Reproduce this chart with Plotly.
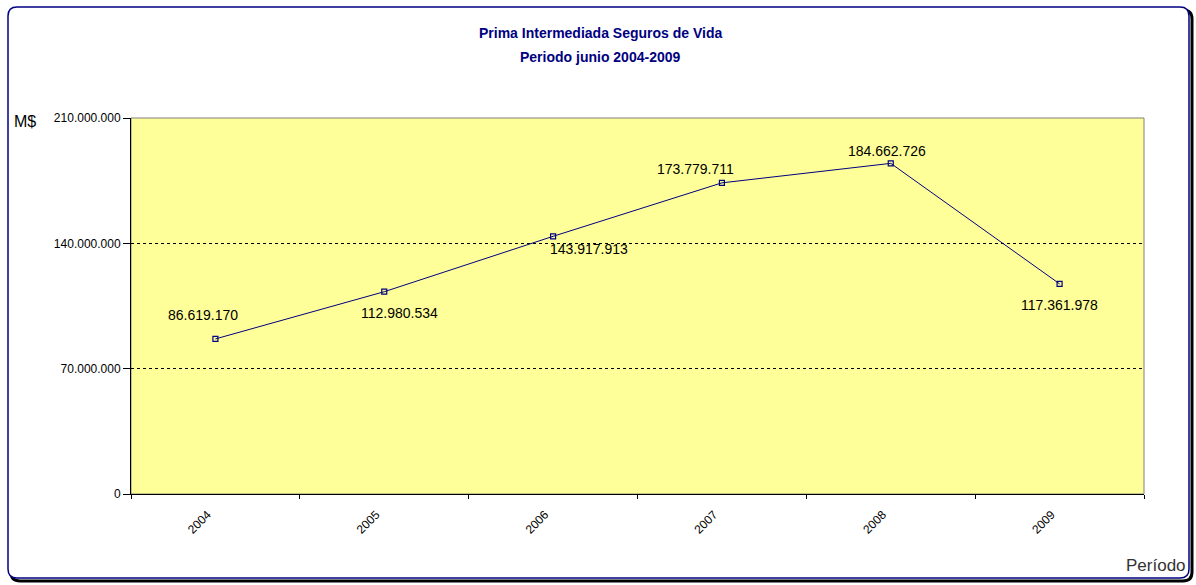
import plotly.graph_objects as go

years = ["2004", "2005", "2006", "2007", "2008", "2009"]
values = [86619170, 112980534, 143917913, 173779711, 184662726, 117361978]
labels = ["86.619.170", "112.980.534", "143.917.913", "173.779.711", "184.662.726", "117.361.978"]
label_shift_x = [-12, 15, 36, -26, -4, 0]
label_shift_y = [24, -21, -13, 14, 12, -21]
ytick_vals = [0, 70000000, 140000000, 210000000]
ytick_text = ["0", "70.000.000", "140.000.000", "210.000.000"]

W, H = 1196, 585
ML, MR, MT, MB = 131, 52, 118, 91
PW, PH = W - ML - MR, H - MT - MB

def px(x):
    return (x - ML) / PW

def py(y):
    return (H - MB - y) / PH

fig = go.Figure()
fig.add_trace(go.Scatter(
    x=years, y=values, mode="lines+markers",
    line=dict(color="#000080", width=1),
    marker=dict(symbol="square-open", size=5, color="#000080", line=dict(width=1.2)),
    hoverinfo="skip", showlegend=False,
))

annotations = []
for i, (v, t, dx, dy) in enumerate(zip(values, labels, label_shift_x, label_shift_y)):
    annotations.append(dict(x=i, y=v, xref="x", yref="y", text=t, showarrow=False,
                            xshift=dx, yshift=dy,
                            font=dict(family="Liberation Sans, Arial", size=14, color="#000000")))

annotations += [
    dict(x=px(600), y=py(33), xref="paper", yref="paper", text="<b>Prima Intermediada Seguros de Vida</b>",
         showarrow=False, xanchor="center", yanchor="middle",
         font=dict(family="Liberation Sans, Arial", size=14, color="#000080")),
    dict(x=px(600), y=py(57), xref="paper", yref="paper", text="<b>Periodo junio 2004-2009</b>",
         showarrow=False, xanchor="center", yanchor="middle",
         font=dict(family="Liberation Sans, Arial", size=14, color="#000080")),
    dict(x=px(12), y=py(121), xref="paper", yref="paper", text="M$", showarrow=False,
         xanchor="left", yanchor="middle",
         font=dict(family="Liberation Sans, Arial", size=16, color="#000000")),
    dict(x=px(1124), y=py(565), xref="paper", yref="paper", text="Período", showarrow=False,
         xanchor="left", yanchor="middle",
         font=dict(family="Liberation Sans, Arial", size=17, color="#333333")),
]

def rounded_path(x0, y0, x1, y1, r):
    X = px
    Y = py
    return (f"M {X(x0+r)},{Y(y0)} L {X(x1-r)},{Y(y0)} Q {X(x1)},{Y(y0)} {X(x1)},{Y(y0+r)} "
            f"L {X(x1)},{Y(y1-r)} Q {X(x1)},{Y(y1)} {X(x1-r)},{Y(y1)} "
            f"L {X(x0+r)},{Y(y1)} Q {X(x0)},{Y(y1)} {X(x0)},{Y(y1-r)} "
            f"L {X(x0)},{Y(y0+r)} Q {X(x0)},{Y(y0)} {X(x0+r)},{Y(y0)} Z")

shapes = [
    dict(type="path", xref="paper", yref="paper", path=rounded_path(11, 10, 1192, 581, 9),
         line=dict(color="#000000", width=3), fillcolor="rgba(0,0,0,0)", layer="below"),
    dict(type="path", xref="paper", yref="paper", path=rounded_path(8, 7, 1189, 578, 9),
         line=dict(color="#000080", width=1.5), fillcolor="#FFFFFF", layer="below"),
    dict(type="rect", xref="paper", yref="paper", x0=0, y0=0, x1=1, y1=1,
         line=dict(color="#808080", width=1), fillcolor="#FFFF99", layer="below"),
]

fig.update_layout(
    width=W, height=H,
    margin=dict(l=ML, r=MR, t=MT, b=MB, pad=0),
    paper_bgcolor="rgba(0,0,0,0)",
    plot_bgcolor="rgba(0,0,0,0)",
    annotations=annotations,
    shapes=shapes,
    xaxis=dict(
        type="category", range=[-0.5, 5.5], tickangle=-45,
        tickson="boundaries", ticks="outside", ticklen=4, tickcolor="#000000",
        ticklabelstandoff=8, ticklabelshift=-8,
        showgrid=False, showline=True, linecolor="#000000", linewidth=1,
        tickfont=dict(family="Liberation Sans, Arial", size=12, color="#000000"),
        zeroline=False, fixedrange=True,
    ),
    yaxis=dict(
        range=[0, 210000000], tickvals=ytick_vals, ticktext=ytick_text,
        ticks="outside", ticklen=7, tickcolor="#000000",
        showgrid=True, gridcolor="#000000", griddash="3px,3px", gridwidth=1,
        showline=True, linecolor="#000000", linewidth=1,
        tickfont=dict(family="Liberation Sans, Arial", size=12, color="#000000"),
        zeroline=False, fixedrange=True,
    ),
    font=dict(family="Liberation Sans, Arial"),
)

fig.write_html("out.html", config={"displayModeBar": False},
               post_script="document.body.style.margin='0';document.body.style.overflow='hidden';")
